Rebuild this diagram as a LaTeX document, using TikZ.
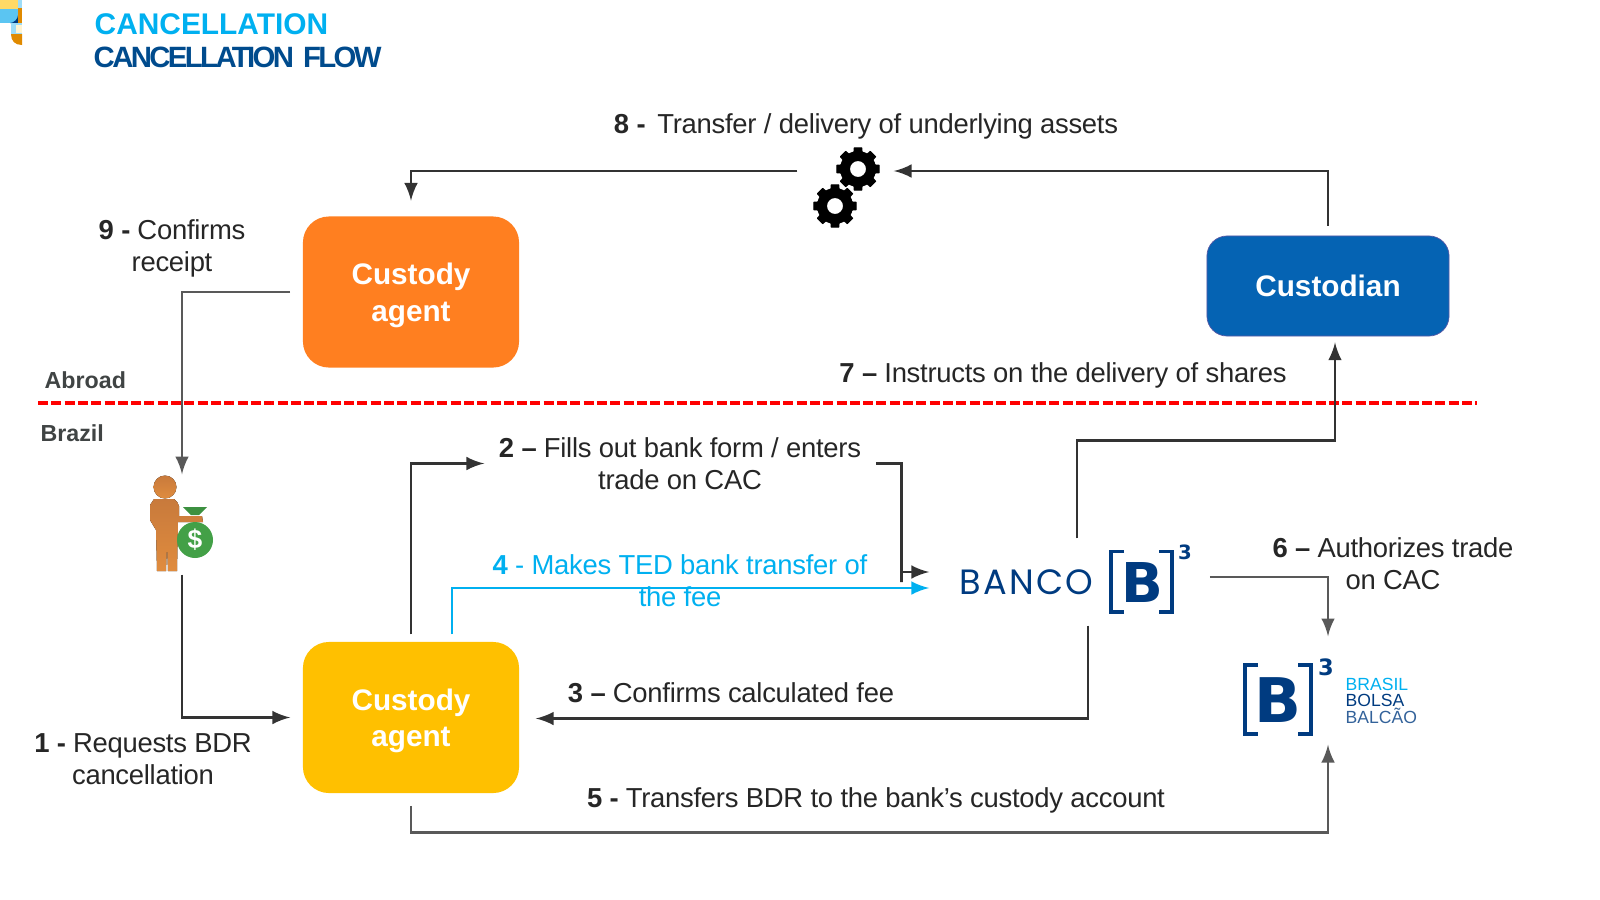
\documentclass[tikz,border=0pt]{standalone}
\usepackage{fontspec}
\usepackage{tikz}
\usetikzlibrary{shapes,arrows}
\setmainfont{Liberation Sans}
\newfontfamily\tightfont[LetterSpace=-9]{Liberation Sans}
\newfontfamily\notefont[LetterSpace=-1]{Liberation Sans}
\newfontfamily\wideband[LetterSpace=6]{Poppins}
\newfontfamily\heavyfont{DejaVu Sans}
\definecolor{skytitle}{HTML}{00B0F0}
\definecolor{navytitle}{HTML}{004B8D}
\definecolor{bankblue}{HTML}{003B80}
\definecolor{darkline}{HTML}{333333}
\definecolor{greyline}{HTML}{595959}
\definecolor{inktext}{HTML}{262626}
\definecolor{regiongrey}{HTML}{404444}
\definecolor{moneygreen}{HTML}{43A047}
\definecolor{agentorange}{HTML}{FF7F20}
\definecolor{agentyellow}{HTML}{FFC000}
\definecolor{custodyblue}{HTML}{0563B3}
\definecolor{skinlight}{HTML}{E08C3E}
\definecolor{skindark}{HTML}{C87A3C}
\definecolor{markorange}{HTML}{E08A00}
\definecolor{markblue}{HTML}{5BC5F2}
\definecolor{markyellow}{HTML}{FFD966}
\tikzstyle{block} = [rectangle, draw=none, text=white, align=center, inner sep=0pt,
    font=\bfseries\fontsize{8.45}{10.3}\selectfont, text centered]
\tikzstyle{agentbox} = [block, minimum width=2.16cm, minimum height=1.51cm, rounded corners=0.26cm]
\tikzstyle{note} = [align=center, inner sep=0pt, text=inktext, font=\notefont\fontsize{7.8}{9.1}\selectfont]
\tikzstyle{region} = [anchor=west, inner sep=0pt, text=regiongrey, font=\bfseries\fontsize{6.6}{8}\selectfont]
\tikzstyle{anchorbox} = [inner sep=0pt, draw=none]
\tikzstyle{line} = [draw=darkline, line width=0.75pt, -latex]
\tikzstyle{softline} = [line, draw=greyline]
\tikzstyle{bluepath} = [line, draw=skytitle]
\begin{document}
\begin{tikzpicture}[x=0.01cm, y=-0.01cm]
\useasboundingbox (0,0) rectangle (1600,900);

% corner mark
\fill[markyellow] (0,0) rectangle (18,9);
\fill[markblue] (0,9) rectangle (18,23);
\fill[bankblue] (18,15) -- (18,23) -- (10,23) .. controls (14,23) and (18,19) .. (18,15);
\fill[markblue!60!white] (18,0) rectangle (22,8);
\fill[markorange] (18,8) rectangle (22,23);
\fill[markblue!60!white] (11,23) rectangle (22,34);
\fill[markyellow!30!white] (16,25) rectangle (22,33);
\fill[markorange] (11,34) -- (22,34) -- (22,45) .. controls (15,45) and (11,41) .. (11,34);

% titles
\node [anchor=west, inner sep=0pt, text=skytitle, font=\bfseries\fontsize{8.5}{10}\selectfont] (title) at (94,24) {CANCELLATION};
\node [anchor=west, inner sep=0pt, text=navytitle, font=\tightfont\bfseries\fontsize{8.35}{10}\selectfont] (subtitle) at (93,57) {CANCELLATION\hspace{1pt} FLOW};

% regions
\node [region] (abroad) at (44,380) {Abroad};
\node [region] (brazil) at (40,433) {Brazil};
\draw[red, line width=1pt, dash pattern=on 0.1cm off 0.033cm] (38,403) -- (1477,403);

% boxes
\node [agentbox, fill=agentorange] (agentup) at (411,292) {\rule{0pt}{8pt}Custody\\agent};
\node [agentbox, fill=agentyellow] (agentlow) at (411,717.5) {\rule{0pt}{8pt}Custody\\agent};
\node [block, fill=custodyblue, draw=gray!70!blue, line width=0.2pt, minimum width=2.42cm, minimum height=1cm, rounded corners=0.2cm] (custodian) at (1328,286) {Custodian};

% logos and pictures are only anchors for the arrows
\node [anchorbox, minimum width=0.95cm, minimum height=0.05cm] (gears) at (845.5,171) {};
\node [anchorbox, minimum width=1cm, minimum height=0.89cm] (client) at (182,519.5) {};
\node [anchorbox, minimum width=2.79cm, minimum height=0.86cm] (banco) at (1069.5,582) {};
\node [anchorbox, minimum width=1.8cm, minimum height=1.07cm] (brasil) at (1328,690.5) {};

% gears
\foreach \cx/\cy in {858/169, 835/206} {
  \fill[black, line join=round, draw=black, line width=0.3pt]
    \foreach \a in {0,45,...,315} {
      ([shift={(\a-15:16)}]\cx,\cy) -- ([shift={(\a-10:21.5)}]\cx,\cy) -- ([shift={(\a+10:21.5)}]\cx,\cy) -- ([shift={(\a+15:16)}]\cx,\cy) -- cycle
    };
  \fill[black, even odd rule] (\cx,\cy) circle (18) (\cx,\cy) circle (8);
}

% client with money bag
\fill[top color=skindark, bottom color=skinlight] (165,487) circle (11.5);
\fill[top color=skindark, bottom color=skinlight] (154,499) -- (174,499) to[bend left=20] (179,506) -- (179,516) -- (202,516) -- (203,522) -- (178,522) -- (177,571) -- (168,571) -- (167,546) -- (166,571) -- (157,571) -- (156,530) -- (150,520) -- (150,505) -- cycle;
\fill[moneygreen!90!black] (183,507) -- (207,507) -- (199,515) -- (191,515) -- cycle;
\fill[moneygreen] (195,540) circle (18);
\node [inner sep=0pt, text=white, font=\bfseries\fontsize{7.5}{8}\selectfont] (dollar) at (195,540) {\$};

% Banco B3 logo
\node [anchor=west, inner sep=0pt, text=bankblue, font=\wideband\fontsize{10}{11}\selectfont] (bancotext) at (959,582) {BANCO};
\draw[bankblue, line width=1.1pt] (1124,551.5) -- (1111,551.5) -- (1111,612) -- (1124,612);
\draw[bankblue, line width=1.1pt] (1159,551.5) -- (1172,551.5) -- (1172,612) -- (1159,612);
\node [inner sep=0pt, text=bankblue, font=\heavyfont\bfseries\fontsize{15.6}{18}\selectfont] (bancob) at (1142,582) {B};
\node [inner sep=0pt, text=bankblue, font=\heavyfont\bfseries\fontsize{5.6}{6}\selectfont] (bancocube) at (1185,552) {3};

% Brasil Bolsa Balcao logo
\draw[bankblue, line width=1.4pt] (1258,665) -- (1245,665) -- (1245,734) -- (1258,734);
\draw[bankblue, line width=1.4pt] (1298,665) -- (1311,665) -- (1311,734) -- (1298,734);
\node [inner sep=0pt, text=bankblue, font=\heavyfont\bfseries\fontsize{17.5}{20}\selectfont] (brasilb) at (1278,700) {B};
\node [inner sep=0pt, text=bankblue, font=\heavyfont\bfseries\fontsize{6.4}{8}\selectfont] (brasilcube) at (1326,667) {3};
\node [anchor=west, inner sep=0pt, text=skytitle, font=\fontsize{5}{6}\selectfont] (brasilone) at (1345,684) {BRASIL};
\node [anchor=west, inner sep=0pt, text=bankblue, font=\fontsize{5}{6}\selectfont] (brasiltwo) at (1345,700) {BOLSA};
\node [anchor=west, inner sep=0pt, text=bankblue!80!white, font=\fontsize{5}{6}\selectfont] (brasilthree) at (1345,716) {BALCÃO};

% labels
\node [note] (stepone) at (143,759) {\textbf{1 -} Requests BDR\\cancellation};
\node [note] (steptwo) at (680,463.5) {\textbf{2 –} Fills out bank form / enters\\trade on CAC};
\node [note] (stepthree) at (731,693) {\textbf{3 –} Confirms calculated fee};
\node [note, text=skytitle] (stepfour) at (680,581) {\textbf{4} - Makes TED bank transfer of\\the fee};
\node [note] (stepfive) at (876,800) {\textbf{5 -} Transfers BDR to the bank’s custody account};
\node [note] (stepsix) at (1393,564) {\textbf{6 –} Authorizes trade\\on CAC};
\node [note] (stepseven) at (1063,375) {\textbf{7 –} Instructs on the delivery of shares};
\node [note] (stepeight) at (866,126) {\textbf{8 -}\, Transfer / delivery of underlying assets};
\node [note] (stepnine) at (172,248.5) {\textbf{9 -} Confirms\\receipt};

% connectors
\path [line, shorten <=0.1cm] (custodian.north) |- (gears.east);
\path [line, shorten >=0.15cm] (gears.west) -| (agentup.north);
\path [softline, shorten <=0.12cm] (agentup.west) -| (client.north);
\path [line, shorten <=0.1cm, shorten >=0.12cm] (client.south) |- (agentlow.west);
\path [line, shorten <=0.07cm, shorten >=0.14cm] (agentlow.north) |- (steptwo.west);
\path [line, shorten <=0.14cm] (steptwo.east) -| ([xshift=-0.28cm]banco.west) |- ([yshift=0.1cm]banco.west);
\path [bluepath, shorten <=0.07cm] ([xshift=0.41cm]agentlow.north) |- ([yshift=-0.06cm]banco.west);
\path [line, shorten >=0.16cm] ([xshift=0.185cm]banco.south) |- ([yshift=-0.01cm]agentlow.east);
\path [softline, shorten <=0.12cm] (agentlow.south) -- ++(0,39) -| (brasil.south);
\path [softline] ([yshift=0.05cm]banco.east) -| (brasil.north);
\path [line] ([xshift=0.075cm]banco.north) |- ++(0,-98) -| ([xshift=0.07cm,yshift=-0.06cm]custodian.south);
\end{tikzpicture}
\end{document}
